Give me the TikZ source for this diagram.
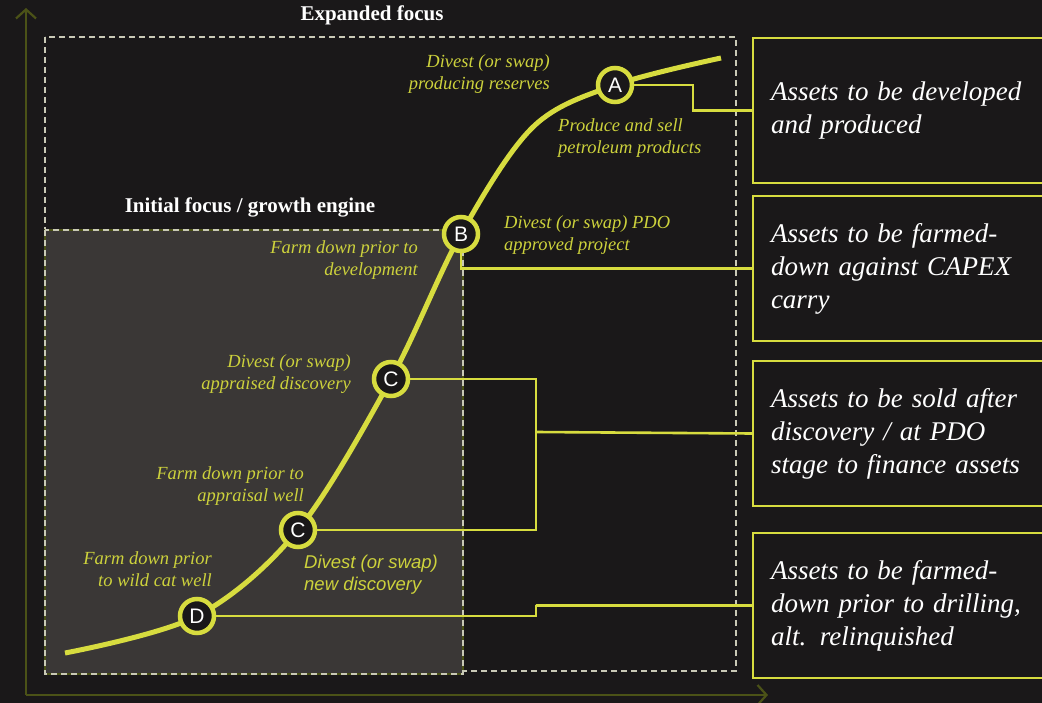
\documentclass[tikz,border=0pt]{standalone}
\usepackage{fontspec}
\IfFontExistsTF{LiberationSerif-Italic.ttf}
  {\setmainfont{LiberationSerif}[Extension=.ttf,UprightFont=*-Regular,ItalicFont=*-Italic,BoldFont=*-Bold,BoldItalicFont=*-BoldItalic]}
  {\setmainfont{Liberation Serif}[ItalicFont={Liberation Serif},ItalicFeatures={FakeSlant=0.2}]}
\IfFontExistsTF{LiberationSans-Italic.ttf}
  {\setsansfont{LiberationSans}[Extension=.ttf,UprightFont=*-Regular,ItalicFont=*-Italic,BoldFont=*-Bold,BoldItalicFont=*-BoldItalic]}
  {\setsansfont{Liberation Sans}[ItalicFont={Liberation Sans},ItalicFeatures={FakeSlant=0.2}]}
\usetikzlibrary{arrows.meta}
\definecolor{bg}{HTML}{1A1819}
\definecolor{inner}{HTML}{3A3736}
\definecolor{ylw}{HTML}{D7DC3F}
\definecolor{lbl}{HTML}{CDD23C}
\definecolor{olive}{HTML}{4B5217}
\definecolor{dashc}{HTML}{C9C9B6}
\tikzset{
  x=1pt, y=-1pt,
  curveline/.style={draw=ylw, line width=5pt, line cap=butt},
  stage/.style={circle, draw=ylw, line width=4.5pt, fill=bg, minimum size=34pt, inner sep=0pt,
    text=white, font=\sffamily\fontsize{21}{21}\selectfont},
  conn/.style={draw=ylw, line width=2.6pt},
  assetbox/.style={draw=ylw, line width=2pt, fill=bg, anchor=north west, minimum width=294pt,
    minimum height=145pt, text width=262pt, align=left, inner xsep=18pt, text=white,
    font=\itshape\fontsize{27}{33}\selectfont},
  lab/.style={text=lbl, inner sep=0pt, font=\itshape\fontsize{18.5}{22}\selectfont},
  labsans/.style={text=lbl, inner sep=0pt, font=\sffamily\itshape\fontsize{18.5}{22}\selectfont},
  ttl/.style={text=white, inner sep=0pt, font=\bfseries\fontsize{21}{22}\selectfont},
  axis/.style={draw=olive, line width=2.2pt, -{Straight Barb[length=9pt,width=20pt,line width=2.2pt]}},
  dashbox/.style={draw=dashc, line width=1.5pt, dash pattern=on 6pt off 4pt},
}
\begin{document}
\begin{tikzpicture}
\useasboundingbox (0,0) rectangle (1042,703);
\fill[bg] (0,0) rectangle (1042,703);
% axes
\coordinate (origin) at (26,695);
\coordinate (ytop) at (26,8);
\coordinate (xend) at (768,695);
\draw[axis] (origin) -- (ytop);
\draw[axis] (origin) -- (xend);
% expanded focus box
\draw[dashbox] (45,37) rectangle (736,671);
\node[ttl] (t1) at (372,15) {Expanded focus};
% initial focus box
\fill[inner] (45,230) rectangle (463,674);
\draw[olive, line width=2pt] (45,230) rectangle (463,674);
\draw[dashbox] (45,230) rectangle (463,674);
\node[ttl] (t2) at (250,207) {Initial focus / growth engine};
% right boxes
\node[assetbox] (R1) at (752,37) {Assets to be developed\\and produced};
\node[assetbox] (R2) at (752,195) {Assets to be farmed-\\down against CAPEX\\carry};
\node[assetbox] (R3) at (752,360) {Assets to be sold after\\discovery / at PDO\\stage to finance assets};
\node[assetbox] (R4) at (752,532) {Assets to be farmed-\\down prior to drilling,\\alt. relinquished};
% stage coordinates
\coordinate (pA) at (615,85);
\coordinate (pB) at (461,234);
\coordinate (pCu) at (391,379);
\coordinate (pCl) at (298,530);
\coordinate (pD) at (197,616);
\coordinate (cstart) at (65,653);
\coordinate (cend) at (721,58);
% curve
\draw[curveline] plot[smooth, tension=0.55] coordinates {(cstart) (pD) (pCl) (pCu) (pB) (533,127) (pA) (cend)};
% connectors
\coordinate (jx) at (536,432);
\coordinate (jd) at (536,605);
\draw[conn] (pA) -- ++(78,0) |- (R1.west);
\draw[conn] (pB) |- (R2.west);
\draw[conn] (pCu) -| (jx) |- (pCl);
\draw[conn] (jx) -- (R3.west);
\draw[conn] (pD) -| (jd) |- (R4.west);
% stage nodes
\node[stage] (A) at (pA) {A};
\node[stage] (B) at (pB) {B};
\node[stage] (Cu) at (pCu) {C};
\node[stage] (Cl) at (pCl) {C};
\node[stage] (D) at (pD) {D};
% labels
\node[lab, anchor=east, align=right] (lA1) at (550,74) {Divest (or swap)\\producing reserves};
\node[lab, anchor=west, align=left] (lA2) at (558,138) {Produce and sell\\petroleum products};
\node[lab, anchor=west, align=left] (lB1) at (504,235) {Divest (or swap) PDO\\approved project};
\node[lab, anchor=east, align=right] (lB2) at (418,260) {Farm down prior to\\development};
\node[lab, anchor=east, align=right] (lC1) at (351,374) {Divest (or swap)\\appraised discovery};
\node[lab, anchor=east, align=right] (lC2) at (304,486) {Farm down prior to\\appraisal well};
\node[labsans, anchor=west, align=left] (lC3) at (304,575) {Divest (or swap)\\new discovery};
\node[lab, anchor=east, align=right] (lD) at (212,569) {Farm down prior\\to wild cat well};
\end{tikzpicture}
\end{document}
